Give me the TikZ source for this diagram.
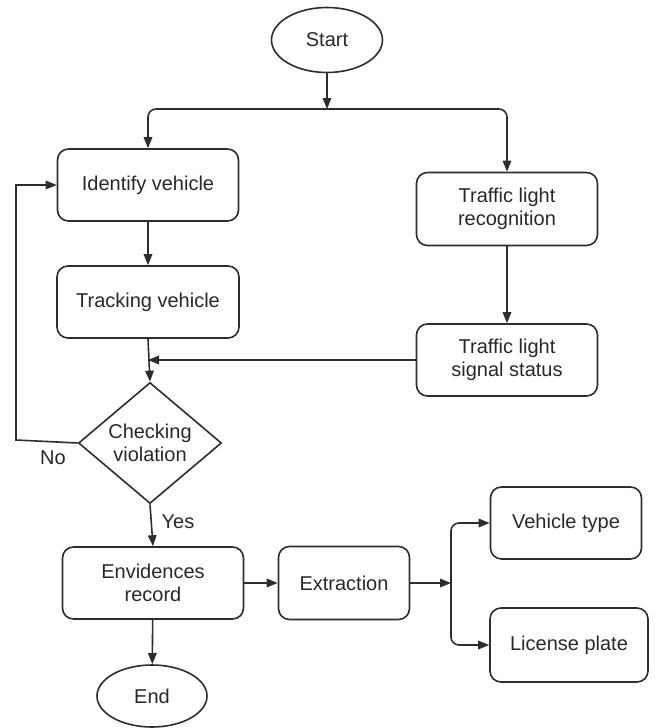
\documentclass[tikz,border=0pt]{standalone}
\usepackage{fontspec}
\setmainfont{Liberation Sans}
\usetikzlibrary{shapes.geometric, arrows.meta}
\definecolor{lineGray}{RGB}{45, 45, 45}
\definecolor{textGray}{RGB}{40, 40, 40}

\begin{document}
\begin{tikzpicture}[x=1pt, y=-1pt,
    >={Triangle[length=11pt, width=8.5pt]},
    every node/.style={font=\fontsize{20}{23}\selectfont, text=textGray},
    procbox/.style={draw=lineGray, line width=1.6pt, rectangle, rounded corners=11pt,
      align=center, inner sep=0pt},
    termbox/.style={draw=lineGray, line width=1.6pt, ellipse, inner sep=0pt},
    decbox/.style={draw=lineGray, line width=1.6pt, diamond, inner sep=0pt, align=center},
    flow/.style={draw=lineGray, line width=1.6pt}]
    \useasboundingbox (0,0) rectangle (654,728);

    % terminals
    \node[termbox, minimum width=111pt, minimum height=65pt] (start) at (327,40) {Start};
    \node[termbox, minimum width=110pt, minimum height=62pt] (end) at (152,696) {End};

    % left column
    \node[procbox, minimum width=181pt, minimum height=72pt] (identify) at (148,185) {Identify vehicle};
    \node[procbox, minimum width=182pt, minimum height=72pt] (tracking) at (148,302) {Tracking vehicle};
    \node[decbox, minimum width=143pt, minimum height=120pt] (check) at (150,443) {Checking\\violation};
    \node[procbox, minimum width=181pt, minimum height=72pt] (record) at (153,583) {Envidences\\record};

    % right column
    \node[procbox, minimum width=181pt, minimum height=73pt] (recog) at (507,209) {Traffic light\\recognition};
    \node[procbox, minimum width=181pt, minimum height=72pt] (status) at (507,360) {Traffic light\\signal status};

    % bottom row
    \node[procbox, minimum width=131pt, minimum height=73pt] (extract) at (344,583) {Extraction};
    \node[procbox, minimum width=151pt, minimum height=72pt] (vtype) at (566,523) {Vehicle type};
    \node[procbox, minimum width=158pt, minimum height=74pt] (plate) at (569,645) {License plate};

    \coordinate (split) at (327,109);
    \coordinate (fork) at (451,583);
    \coordinate (noturn) at (16,440);

    \draw[flow, ->] (start) -- (split);
    \draw[flow, ->, rounded corners=8pt] (split) -| (identify.north);
    \draw[flow, ->, rounded corners=8pt] (split) -| (recog.north);
    \draw[flow, ->] (identify) -- (tracking);
    \draw[flow, ->] (recog) -- (status);
    \draw[flow, ->] (tracking.south) -- (check.north);
    \draw[flow, ->] (status.west) -- (status.west -| tracking.south);
    \draw[flow, ->] (check.west) -- (noturn) |- (identify.west);
    \node (no) at (53,458) {No};
    \draw[flow, ->] (check.south) -- (record.north);
    \node (yes) at (178,522) {Yes};
    \draw[flow, ->] (record) -- (extract);
    \draw[flow, ->] (extract) -- (fork);
    \draw[flow, ->, rounded corners=8pt] (fork) |- (vtype.west);
    \draw[flow, ->, rounded corners=8pt] (fork) |- (plate.west);
    \draw[flow, ->] (record) -- (end);
  \end{tikzpicture}
\end{document}
